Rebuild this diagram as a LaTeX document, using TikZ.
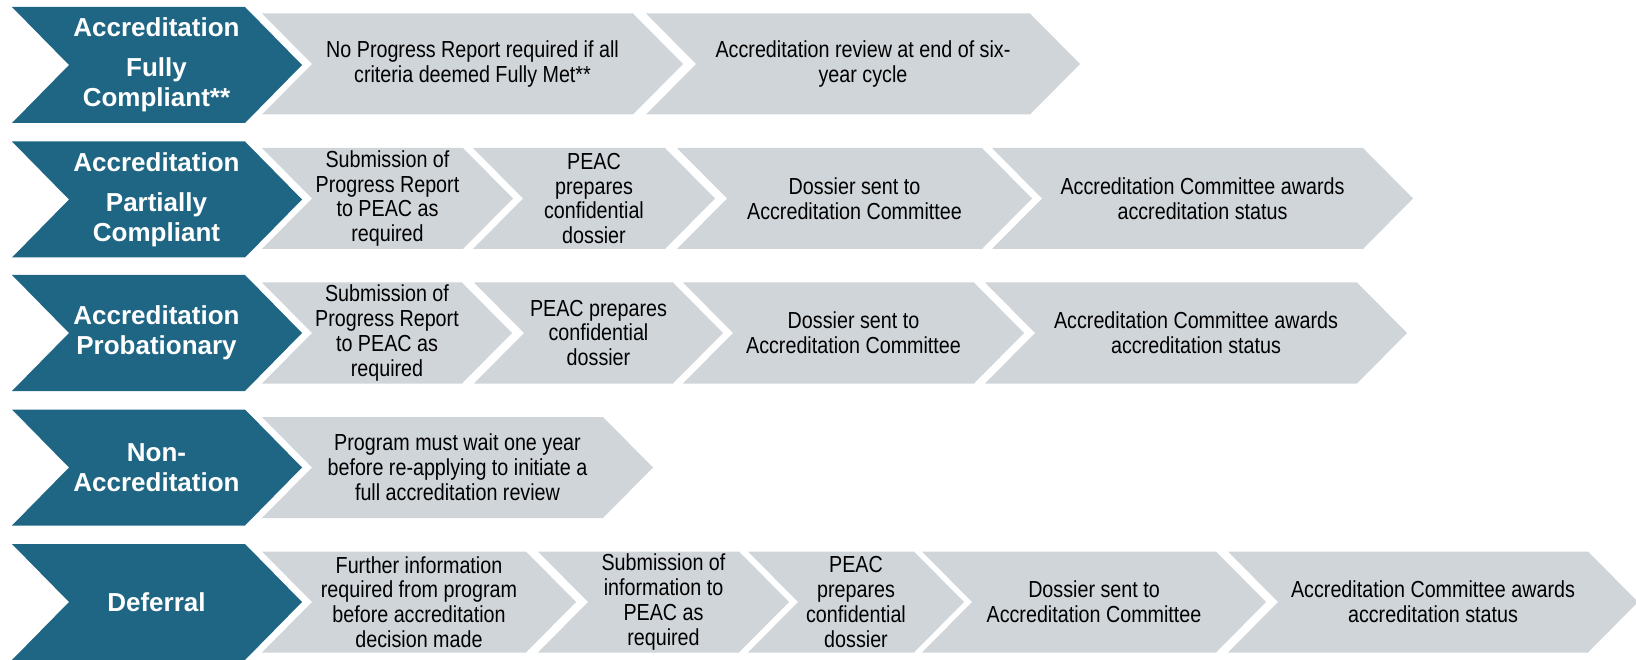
\documentclass[tikz,border=0pt]{standalone}
\usepackage{fontspec}
\setmainfont{Liberation Sans}
\newfontfamily\narrowfont[FakeStretch=0.85]{Liberation Sans}
\definecolor{chevblue}{RGB}{31,102,132}
\definecolor{chevgray}{RGB}{208,213,218}
\tikzset{
  bluetext/.style={text=white, font=\bfseries\fontsize{26}{30}\selectfont, align=center, inner sep=0pt},
  graytext/.style={text=black, font=\narrowfont\fontsize{23.2}{24.8}\selectfont, align=center, inner sep=0pt},
}
% #1 x1, #2 x2, #3 yc, #4 half height, #5 depth, #6 colour
\newcommand\chevshape[6]{%
  \fill[#6] (#1,#3-#4) -- (#2,#3-#4) -- (#2+#5,#3) -- (#2,#3+#4) -- (#1,#3+#4) -- (#1+#5,#3) -- cycle;}
% #1 name, #2 x1, #3 x2, #4 yc, #5 text
\newcommand\graychev[5]{%
  \chevshape{#2}{#3}{#4}{50.5}{50}{chevgray}
  \node[graytext] (#1) at ({(#2+50+#3)/2},#4) {#5};}
% #1 name, #2 yc, #3 text
\newcommand\bluechev[3]{%
  \chevshape{12}{245}{#2}{58}{57}{chevblue}
  \node[bluetext] (#1) at (156.5,#2) {#3};}
\begin{document}
\begin{tikzpicture}[x=1pt,y=-1pt]
\useasboundingbox (0,0) rectangle (1636,660);
% Row 1
\bluechev{b1}{65}{Accreditation\\[10pt]Fully\\Compliant**}
\graychev{r1a}{262}{633}{64}{No Progress Report required if all\\criteria deemed Fully Met**}
\graychev{r1b}{646}{1030}{64}{Accreditation review at end of six-\\year cycle}
% Row 2
\bluechev{b2}{199.5}{Accreditation\\[10pt]Partially\\Compliant}
\graychev{r2a}{262}{463}{198.5}{Submission of\\Progress Report\\to PEAC as\\required}
\graychev{r2b}{473}{665}{198.5}{PEAC\\prepares\\confidential\\dossier}
\graychev{r2c}{677}{982}{198.5}{Dossier sent to\\Accreditation Committee}
\graychev{r2d}{992}{1363}{198.5}{Accreditation Committee awards\\accreditation status}
% Row 3
\bluechev{b3}{333}{Accreditation\\Probationary}
\graychev{r3a}{262}{462}{333}{Submission of\\Progress Report\\to PEAC as\\required}
\graychev{r3b}{474}{673}{333}{PEAC prepares\\confidential\\dossier}
\graychev{r3c}{683}{974}{333}{Dossier sent to\\Accreditation Committee}
\graychev{r3d}{985}{1357}{333}{Accreditation Committee awards\\accreditation status}
% Row 4
\bluechev{b4}{467.5}{Non-\\Accreditation}
\graychev{r4a}{262}{603}{467.5}{Program must wait one year\\before re-applying to initiate a\\full accreditation review}
% Row 5
\bluechev{b5}{602}{Deferral}
\graychev{r5a}{262}{526}{602}{Further information\\required from program\\before accreditation\\decision made}
\graychev{r5b}{538}{739}{602}{Submission of\\information to\\PEAC as\\required}
\graychev{r5c}{748}{914}{602}{PEAC\\prepares\\confidential\\dossier}
\graychev{r5d}{922}{1216}{602}{Dossier sent to\\Accreditation Committee}
\graychev{r5e}{1228}{1588}{602}{Accreditation Committee awards\\accreditation status}
\end{tikzpicture}
\end{document}
